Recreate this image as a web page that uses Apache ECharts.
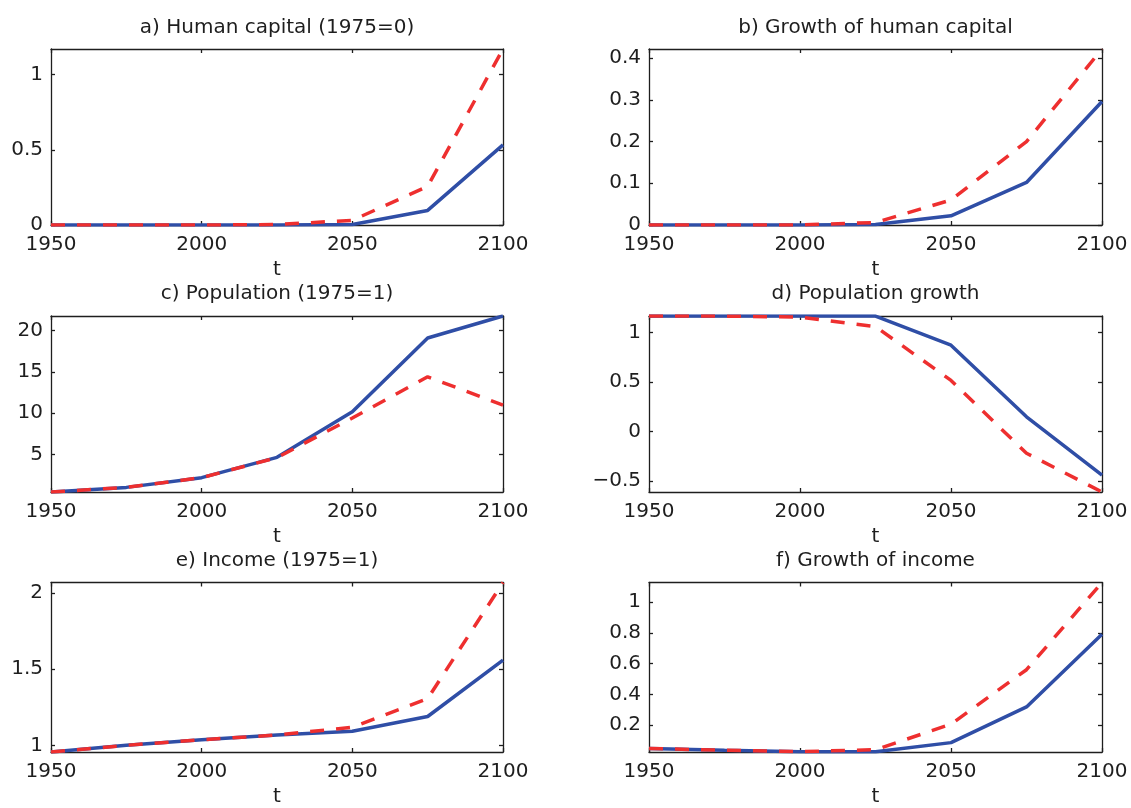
<!DOCTYPE html>
<html>
<head>
<meta charset="utf-8">
<script src="https://cdn.jsdelivr.net/npm/echarts@6/dist/echarts.min.js"></script>
<style>
  html, body { margin: 0; padding: 0; background: #ffffff; }
  #chart { width: 1131px; height: 808px; }
</style>
</head>
<body>
<div id="chart"></div>
<script>
// ---- data ----
const years = [1950, 1975, 2000, 2025, 2050, 2075, 2100];
const xTicks = [1950, 2000, 2050, 2100];

const titles = [
  'a) Human capital (1975=0)',
  'b) Growth of human capital',
  'c) Population (1975=1)',
  'd) Population growth',
  'e) Income (1975=1)',
  'f) Growth of income'
];

const humanCapitalBlue = [0, 0, 0, 0, 0.003, 0.097, 0.533];
const humanCapitalRed  = [0, 0, 0, 0.003, 0.031, 0.257, 1.17];

const hcGrowthBlue = [0, 0, 0, 0.001, 0.022, 0.102, 0.296];
const hcGrowthRed  = [0, 0, 0, 0.006, 0.06, 0.2, 0.422];

const populationBlue = [0.44, 1.0, 2.18, 4.64, 10.16, 19.1, 21.77];
const populationRed  = [0.44, 1.0, 2.18, 4.6, 9.4, 14.4, 10.97];

const popGrowthBlue = [1.164, 1.164, 1.164, 1.164, 0.87, 0.148, -0.44];
const popGrowthRed  = [1.164, 1.164, 1.154, 1.058, 0.515, -0.22, -0.611];

const incomeBlue = [0.956, 1.0, 1.036, 1.068, 1.092, 1.189, 1.559];
const incomeRed  = [0.956, 1.0, 1.036, 1.068, 1.118, 1.307, 2.069];

const incomeGrowthBlue = [0.048, 0.036, 0.027, 0.027, 0.086, 0.318, 0.79];
const incomeGrowthRed  = [0.048, 0.036, 0.027, 0.04, 0.206, 0.56, 1.127];

// axis limits (tight, as in the reference) and y tick labels
const yLimits = [
  [0, 1.17], [0, 0.422], [0.44, 21.77], [-0.611, 1.165], [0.956, 2.069], [0.025, 1.127]
];
const yTicksA = [0, 0.5, 1];
const yTicksB = [0, 0.1, 0.2, 0.3, 0.4];
const yTicksC = [5, 10, 15, 20];
const yTicksD = [-0.5, 0, 0.5, 1];
const yTicksE = [1, 1.5, 2];
const yTicksF = [0.2, 0.4, 0.6, 0.8, 1];

const blueSeries = [humanCapitalBlue, hcGrowthBlue, populationBlue, popGrowthBlue, incomeBlue, incomeGrowthBlue];
const redSeries  = [humanCapitalRed, hcGrowthRed, populationRed, popGrowthRed, incomeRed, incomeGrowthRed];
const yTicks = [yTicksA, yTicksB, yTicksC, yTicksD, yTicksE, yTicksF];

// ---- layout ----
const FONT = 'DejaVu Sans';
const colLeft = [51, 649];
const colWidth = [452, 453];
const rowTop = [49, 316, 582.5];
const plotH = 176;
const titleTop = [18, 284, 550.5];

const BLUE = '#2f4ea6';
const RED = '#ee2f2f';
const AXIS = '#1e1e1e';

function fmt(v) {
  if (v < 0) return '\u2212' + String(Math.abs(v));
  return String(v);
}
function fmtX(v) { return String(v); }

const grid = [], xAxis = [], yAxis = [], series = [], title = [];
for (let i = 0; i < 6; i++) {
  const col = i % 2, row = Math.floor(i / 2);
  const left = colLeft[col], width = colWidth[col], top = rowTop[row];
  grid.push({ left: left, top: top, width: width, height: plotH, containLabel: false });
  title.push({
    text: titles[i], left: left + width / 2, top: titleTop[row], textAlign: 'center', padding: 0,
    textStyle: { fontFamily: FONT, fontSize: 20, fontWeight: 'normal', color: '#1e1e1e' }
  });
  const lineStyle = { color: AXIS, width: 1.3 };
  // bottom x
  xAxis.push({
    type: 'value', gridIndex: i, position: 'bottom', min: 1950, max: 2100, interval: 50,
    name: 't', nameLocation: 'middle', nameGap: 35,
    nameTextStyle: { fontFamily: FONT, fontSize: 20, color: '#1e1e1e' },
    axisLine: { show: true, onZero: false, lineStyle: lineStyle },
    axisTick: { show: true, inside: true, length: 4, lineStyle: lineStyle, customValues: xTicks },
    axisLabel: { show: true, margin: 10, fontFamily: FONT, fontSize: 20, color: '#1e1e1e',
                 customValues: xTicks, formatter: fmtX },
    splitLine: { show: false }
  });
  // top x (box + mirrored ticks)
  xAxis.push({
    type: 'value', gridIndex: i, position: 'top', min: 1950, max: 2100, interval: 50,
    axisLine: { show: true, onZero: false, lineStyle: lineStyle },
    axisTick: { show: true, inside: true, length: 4, lineStyle: lineStyle, customValues: xTicks },
    axisLabel: { show: false },
    splitLine: { show: false }
  });
  const yl = yLimits[i];
  yAxis.push({
    type: 'value', gridIndex: i, position: 'left', min: yl[0], max: yl[1],
    axisLine: { show: true, onZero: false, lineStyle: lineStyle },
    axisTick: { show: true, inside: true, length: 4, lineStyle: lineStyle, customValues: yTicks[i] },
    axisLabel: { show: true, margin: 8, fontFamily: FONT, fontSize: 20, color: '#1e1e1e',
                 customValues: yTicks[i], formatter: fmt },
    splitLine: { show: false }
  });
  yAxis.push({
    type: 'value', gridIndex: i, position: 'right', min: yl[0], max: yl[1],
    axisLine: { show: true, onZero: false, lineStyle: lineStyle },
    axisTick: { show: true, inside: true, length: 4, lineStyle: lineStyle, customValues: yTicks[i] },
    axisLabel: { show: false },
    splitLine: { show: false }
  });
  series.push({
    type: 'line', xAxisIndex: 2 * i, yAxisIndex: 2 * i,
    data: years.map((y, k) => [y, blueSeries[i][k]]),
    showSymbol: false, symbol: 'none', clip: true,
    lineStyle: { color: BLUE, width: 3.5 }, z: 2, animation: false
  });
  series.push({
    type: 'line', xAxisIndex: 2 * i, yAxisIndex: 2 * i,
    data: years.map((y, k) => [y, redSeries[i][k]]),
    showSymbol: false, symbol: 'none', clip: true,
    lineStyle: { color: RED, width: 3.5, type: [14, 12] }, z: 3, animation: false
  });
}

const chart = echarts.init(document.getElementById('chart'), null, { renderer: 'canvas' });
chart.setOption({
  backgroundColor: '#ffffff',
  animation: false,
  title: title,
  grid: grid,
  xAxis: xAxis,
  yAxis: yAxis,
  series: series
});
</script>
</body>
</html>
